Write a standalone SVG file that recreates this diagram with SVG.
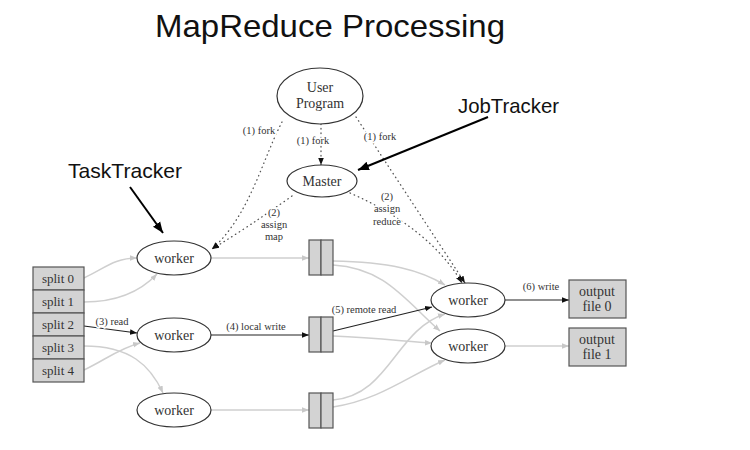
<svg xmlns="http://www.w3.org/2000/svg" width="750" height="450" viewBox="0 0 750 450">
<defs>
<marker id="ab" viewBox="0 0 10 10" refX="10" refY="5" markerWidth="7" markerHeight="7" orient="auto" markerUnits="userSpaceOnUse"><path d="M0,1 L10,5 L0,9 Z" fill="#111"/></marker>
<marker id="ag" viewBox="0 0 10 10" refX="10" refY="5" markerWidth="7" markerHeight="7" orient="auto" markerUnits="userSpaceOnUse"><path d="M0,1 L10,5 L0,9 Z" fill="#c8c8c8"/></marker>
<marker id="ak" viewBox="0 0 10 10" refX="10" refY="5" markerWidth="11" markerHeight="11" orient="auto" markerUnits="userSpaceOnUse"><path d="M0,1 L10,5 L0,9 Z" fill="#000"/></marker>
</defs>
<style>
.node{fill:#fff;stroke:#333;stroke-width:1.2}
.box{fill:#d3d3d3;stroke:#555;stroke-width:1.2}
.t{font-family:"Liberation Serif","DejaVu Serif",serif;fill:#333;text-anchor:middle}
.n{font-size:14px}
.s{font-size:13px}
.l{font-size:10.5px;stroke:#fff;stroke-width:3;paint-order:stroke;stroke-linejoin:round}
.h{font-family:"Liberation Sans","Open Sans",sans-serif;fill:#111}
.dot{fill:none;stroke:#555;stroke-width:1.3;stroke-dasharray:0.5 4;stroke-linecap:round}
.g{fill:none;stroke:#cfcfcf;stroke-width:1.5}
.b{fill:none;stroke:#222;stroke-width:1.2}
</style>
<rect width="750" height="450" fill="#fff"/>
<text class="h" x="155" y="37" font-size="32" textLength="350" lengthAdjust="spacingAndGlyphs">MapReduce Processing</text>

<g id="connectors">
<path class="dot" d="M282,122 C262,160 250,215 212,249" marker-end="url(#ab)"/>
<path class="dot" d="M292,196 Q250,226 212,249" marker-end="url(#ab)"/>
<path class="dot" d="M321,124 L321,165" marker-end="url(#ab)"/>
<path class="dot" d="M356,117 L465,283" marker-end="url(#ab)"/>
<path class="dot" d="M350,193 C400,215 440,245 462,283" marker-end="url(#ab)"/>
<path class="g" d="M84,278 C105,268 115,258 137,258" marker-end="url(#ag)"/>
<path class="g" d="M84,302 C115,302 140,292 157,274" marker-end="url(#ag)"/>
<path class="b" d="M84,326 L137,333" marker-end="url(#ab)"/>
<path class="g" d="M84,346 C130,346 150,365 163,393" marker-end="url(#ag)"/>
<path class="g" d="M84,370 C105,360 120,348 140,343" marker-end="url(#ag)"/>
<path class="g" d="M211,258 L309,258" marker-end="url(#ag)"/>
<path class="b" d="M211,335 L309,335" marker-end="url(#ab)"/>
<path class="g" d="M211,410 L309,410" marker-end="url(#ag)"/>
<path class="g" d="M333,261 C390,262 420,270 445,285" marker-end="url(#ag)"/>
<path class="g" d="M333,265 C385,268 405,300 440,331" marker-end="url(#ag)"/>
<path class="b" d="M333,331 L432,307" marker-end="url(#ab)"/>
<path class="g" d="M333,336 C380,338 410,342 432,343" marker-end="url(#ag)"/>
<path class="g" d="M333,400 C390,395 395,330 445,314" marker-end="url(#ag)"/>
<path class="g" d="M333,407 C380,400 410,375 445,360" marker-end="url(#ag)"/>
<path class="b" d="M505,300 L569,300" marker-end="url(#ab)"/>
<path class="g" d="M505,346 L569,346" marker-end="url(#ag)"/>
<path fill="none" stroke="#000" stroke-width="2" d="M488,117 L358,170" marker-end="url(#ak)"/>
<path fill="none" stroke="#000" stroke-width="2" d="M130,187 L163,233" marker-end="url(#ak)"/>
</g>

<g id="labels">
<text class="t l" x="259" y="134">(1) fork</text>
<text class="t l" x="313" y="144">(1) fork</text>
<text class="t l" x="380" y="140">(1) fork</text>
<text class="t l" x="274" y="216">(2)</text>
<text class="t l" x="274" y="228">assign</text>
<text class="t l" x="274" y="240">map</text>
<text class="t l" x="387" y="200">(2)</text>
<text class="t l" x="387" y="212">assign</text>
<text class="t l" x="387" y="225">reduce</text>
<text class="t l" x="112" y="325">(3) read</text>
<text class="t l" x="256" y="330">(4) local write</text>
<text class="t l" x="364" y="313">(5) remote read</text>
<text class="t l" x="541" y="290">(6) write</text>
<text class="h" x="458" y="113" font-size="21" textLength="101" lengthAdjust="spacingAndGlyphs">JobTracker</text>
<text class="h" x="68" y="178" font-size="21" textLength="114" lengthAdjust="spacingAndGlyphs">TaskTracker</text>
</g>

<g id="user-program"><ellipse class="node" cx="320" cy="96" rx="43" ry="28"/><text class="t n" x="320" y="92">User</text><text class="t n" x="320" y="108">Program</text></g>
<g id="master"><ellipse class="node" cx="322" cy="181" rx="35" ry="16"/><text class="t n" x="322" y="186">Master</text></g>
<g id="map-worker-0"><ellipse class="node" cx="174" cy="258" rx="37" ry="17"/><text class="t n" x="174" y="263">worker</text></g>
<g id="map-worker-1"><ellipse class="node" cx="174" cy="335" rx="37" ry="17"/><text class="t n" x="174" y="340">worker</text></g>
<g id="map-worker-2"><ellipse class="node" cx="174" cy="410" rx="37" ry="17"/><text class="t n" x="174" y="415">worker</text></g>
<g id="splits">
<rect class="box" x="33" y="267" width="51" height="23"/><text class="t s" x="58" y="283">split 0</text>
<rect class="box" x="33" y="290" width="51" height="23"/><text class="t s" x="58" y="306">split 1</text>
<rect class="box" x="33" y="313" width="51" height="23"/><text class="t s" x="58" y="329">split 2</text>
<rect class="box" x="33" y="336" width="51" height="23"/><text class="t s" x="58" y="352">split 3</text>
<rect class="box" x="33" y="359" width="51" height="23"/><text class="t s" x="58" y="375">split 4</text>
</g>
<g id="inter-0"><rect class="box" x="309" y="240" width="12" height="35"/><rect class="box" x="321" y="240" width="12" height="35"/></g>
<g id="inter-1"><rect class="box" x="309" y="317" width="12" height="35"/><rect class="box" x="321" y="317" width="12" height="35"/></g>
<g id="inter-2"><rect class="box" x="309" y="393" width="12" height="35"/><rect class="box" x="321" y="393" width="12" height="35"/></g>
<g id="reduce-worker-0"><ellipse class="node" cx="468" cy="300" rx="37" ry="17"/><text class="t n" x="468" y="305">worker</text></g>
<g id="reduce-worker-1"><ellipse class="node" cx="468" cy="346" rx="37" ry="17"/><text class="t n" x="468" y="351">worker</text></g>
<g id="output-0"><rect class="box" x="569" y="280" width="57" height="38"/><text class="t n" x="597" y="296">output</text><text class="t n" x="597" y="311">file 0</text></g>
<g id="output-1"><rect class="box" x="569" y="328" width="57" height="38"/><text class="t n" x="597" y="344">output</text><text class="t n" x="597" y="359">file 1</text></g>
</svg>
